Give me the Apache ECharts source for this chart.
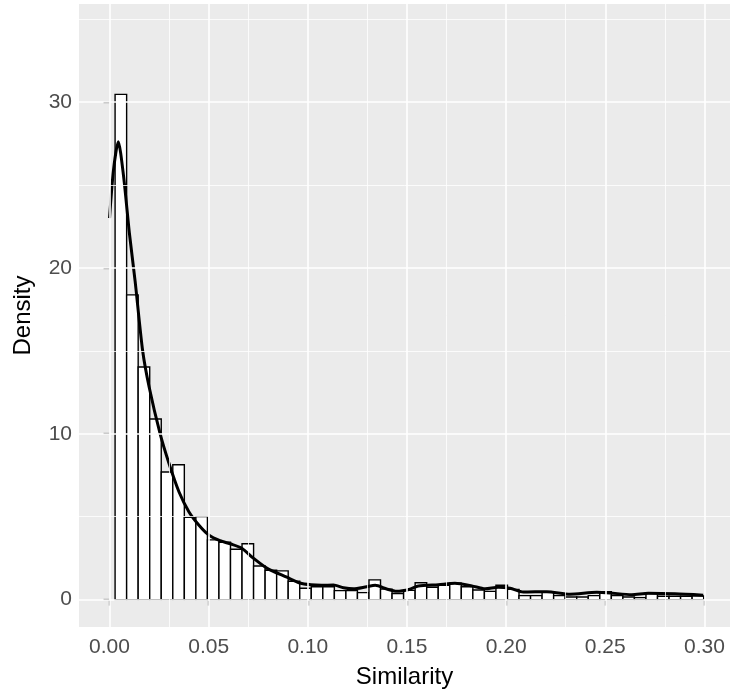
<!DOCTYPE html>
<html>
<head>
<meta charset="utf-8">
<script src="https://cdn.jsdelivr.net/npm/echarts@6/dist/echarts.min.js"></script>
<style>
  html, body { margin: 0; padding: 0; background: #fff; }
  #chart { width: 730px; height: 692px; }
</style>
</head>
<body>
<div id="chart"></div>
<script>
// histogram bins (density), equal width starting at binStart
const binStart = 0.0028;
const binWidth = 0.00582;
const binDensity = [
  30.45, 18.37, 14.02, 10.89, 7.69, 8.13, 4.96, 5.0, 3.60, 3.46,
  3.04, 3.37, 2.03, 1.77, 1.73, 1.11, 0.69, 0.78, 0.78, 0.54,
  0.54, 0.42, 1.19, 0.63, 0.36, 0.56, 1.02, 0.75, 0.87, 0.99,
  0.78, 0.58, 0.50, 0.87, 0.62, 0.24, 0.24, 0.48, 0.24, 0.16,
  0.16, 0.24, 0.48, 0.24, 0.16, 0.12, 0.36, 0.20, 0.20, 0.20,
  0.22
];

// kernel density curve
const densityX = [
  0, 0.002, 0.0044, 0.007, 0.010, 0.0129, 0.0167, 0.020, 0.0255, 0.030,
  0.035, 0.040, 0.045, 0.050, 0.0557, 0.0613, 0.0667, 0.0725, 0.0793, 0.0894,
  0.096, 0.1016, 0.107, 0.1129, 0.118, 0.123, 0.1297, 0.134, 0.1398, 0.1448,
  0.1515, 0.1557, 0.1658, 0.1742, 0.1827, 0.1894, 0.196, 0.202, 0.2087, 0.2205,
  0.2322, 0.2457, 0.2524, 0.2633, 0.2717, 0.2852, 0.2994
];
const densityY = [
  23.0, 25.9, 27.6, 25.6, 22.1, 19.2, 15.0, 12.8, 10.0, 8.2,
  6.5, 5.3, 4.5, 3.9, 3.55, 3.35, 3.1, 2.5, 1.9, 1.35,
  1.0, 0.89, 0.86, 0.88, 0.72, 0.65, 0.78, 0.86, 0.64, 0.5,
  0.63, 0.82, 0.9, 0.98, 0.83, 0.65, 0.75, 0.68, 0.46, 0.48,
  0.33, 0.44, 0.40, 0.30, 0.38, 0.35, 0.27
];

const xTicks = [0, 0.05, 0.10, 0.15, 0.20, 0.25, 0.30];
const yTicks = [0, 10, 20, 30];
const xMinor = [0.025, 0.075, 0.125, 0.175, 0.225, 0.275, 0.325];
const yMinor = [5, 15, 25, 35];

const chart = echarts.init(document.getElementById('chart'));

const bins = binDensity.map((d, i) => [binStart + i * binWidth, binStart + (i + 1) * binWidth, d]);
const curve = densityX.map((x, i) => [x, densityY[i]]);

function renderBin(params, api) {
  const p0 = api.coord([api.value(0), 0]);
  const p1 = api.coord([api.value(1), api.value(2)]);
  return {
    type: 'rect',
    shape: { x: p0[0], y: p1[1], width: p1[0] - p0[0], height: p0[1] - p1[1] },
    style: { fill: '#ffffff', stroke: '#000000', lineWidth: 1.4 }
  };
}

const gridLines = [].concat(
  xMinor.map(v => ({ xAxis: v, lineStyle: { width: 0.8 } })),
  yMinor.map(v => ({ yAxis: v, lineStyle: { width: 0.8 } })),
  xTicks.map(v => ({ xAxis: v, lineStyle: { width: 1.6 } })),
  yTicks.map(v => ({ yAxis: v, lineStyle: { width: 1.6 } }))
);

const option = {
  animation: false,
  textStyle: { fontFamily: 'Liberation Sans' },
  grid: {
    left: 79, right: 0, top: 4, bottom: 65,
    outerBoundsMode: 'none',
    containLabel: false,
    show: true, backgroundColor: '#EBEBEB', borderWidth: 0
  },
  xAxis: {
    type: 'value',
    min: -0.0154,
    max: 0.3129,
    name: 'Similarity',
    nameLocation: 'middle',
    nameGap: 38,
    nameTextStyle: { fontSize: 24, color: '#000', fontFamily: 'Liberation Sans' },
    axisLine: { show: false },
    splitLine: { show: false },
    axisTick: { show: true, length: 6, customValues: xTicks, lineStyle: { color: '#333', width: 1.2 } },
    axisLabel: {
      customValues: xTicks,
      margin: 10,
      fontSize: 21,
      color: '#4D4D4D',
      formatter: v => v.toFixed(2)
    }
  },
  yAxis: {
    type: 'value',
    min: -1.65,
    max: 35.9,
    name: 'Density',
    nameLocation: 'middle',
    nameGap: 44,
    nameRotate: 90,
    nameTextStyle: { fontSize: 24, color: '#000', fontFamily: 'Liberation Sans' },
    axisLine: { show: false },
    splitLine: { show: false },
    axisTick: { show: true, length: 6, customValues: yTicks, lineStyle: { color: '#333', width: 1.2 } },
    axisLabel: {
      customValues: yTicks,
      margin: 7,
      fontSize: 21,
      color: '#4D4D4D',
      formatter: v => String(Math.round(v))
    }
  },
  series: [
    {
      type: 'line',
      data: [],
      silent: true,
      z: 1,
      markLine: {
        silent: true,
        symbol: ['none', 'none'],
        label: { show: false },
        lineStyle: { color: '#ffffff', type: 'solid' },
        emphasis: { disabled: true },
        data: gridLines
      }
    },
    {
      type: 'custom',
      renderItem: renderBin,
      encode: { x: [0, 1], y: 2 },
      data: bins,
      z: 2
    },
    {
      type: 'line',
      data: curve,
      showSymbol: false,
      smooth: 0.25,
      lineStyle: { color: '#000', width: 3 },
      z: 3
    }
  ]
};

chart.setOption(option);
</script>
</body>
</html>
